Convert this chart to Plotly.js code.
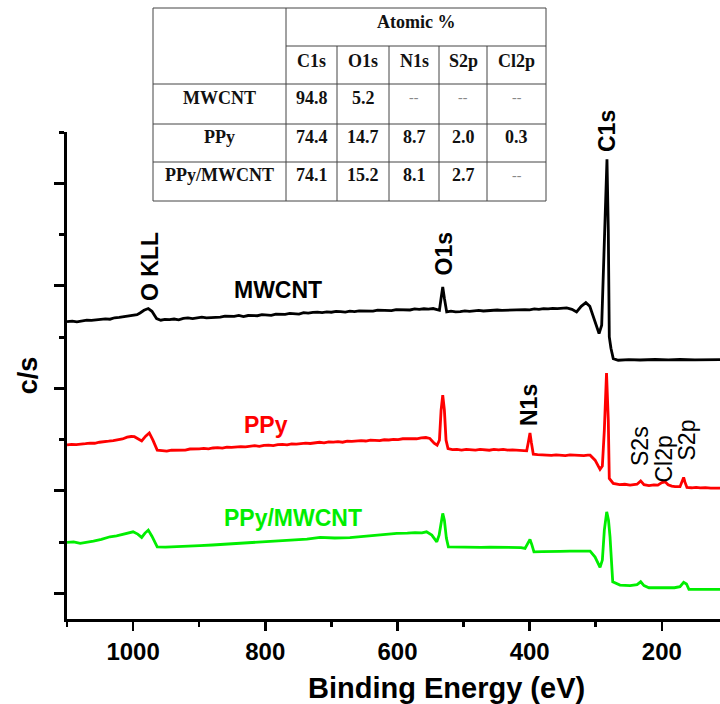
<!DOCTYPE html>
<html><head><meta charset="utf-8">
<script src="https://cdn.plot.ly/plotly-3.0.1.min.js"></script>
<style>html,body{margin:0;padding:0;background:#fff;}#chart{width:720px;height:704px;}</style>
</head><body><div id="chart"></div>
<script>
// ---------------- data (binding energy in eV, intensity in arbitrary c/s units) ----------------
const energyMWCNT = [1100,1092,1085,1078,1070,1063,1056,1049,1042,1035,1028,1021,1014,1007,1000,994,989.5,983.5,977,971.5,964.5,958,952,945,938,931,924,917,910,903,896,889,882,875,868,861,854,847,840,833,826,819,812,805,798,791,784,777,770,763,756,749,742,735,728,721,714,707,700,693,686,679,672,665,658,651,644,637,630,623,616,609,602,595,588,581,574,567,560,553,546,540,536.5,534,531.5,529,525.5,519,512,505,498,491,484,477,470,463,456,449,442,435,428,421,414,407,400,393,386,379,372,365,358,351,344,336,329,322,315,309,302.5,295,291,288,285.2,283,281,279.5,277,273.5,266,250,233,210,190,172.5,150,130,112];
const countsMWCNT = [2.650,2.656,2.648,2.656,2.664,2.662,2.666,2.674,2.678,2.674,2.688,2.692,2.698,2.706,2.712,2.718,2.735,2.761,2.778,2.751,2.680,2.664,2.672,2.670,2.676,2.668,2.682,2.686,2.680,2.684,2.694,2.688,2.690,2.698,2.694,2.704,2.700,2.702,2.712,2.700,2.710,2.712,2.708,2.718,2.716,2.712,2.724,2.720,2.722,2.730,2.726,2.724,2.738,2.734,2.740,2.744,2.738,2.746,2.742,2.750,2.748,2.744,2.752,2.748,2.756,2.754,2.758,2.752,2.762,2.760,2.764,2.758,2.768,2.766,2.770,2.764,2.774,2.770,2.776,2.772,2.778,2.770,2.761,2.878,2.988,2.878,2.745,2.752,2.746,2.748,2.756,2.750,2.752,2.760,2.754,2.758,2.756,2.764,2.760,2.762,2.768,2.764,2.770,2.768,2.766,2.774,2.770,2.778,2.774,2.780,2.778,2.784,2.784,2.771,2.745,2.800,2.836,2.800,2.683,2.534,2.615,3.317,3.931,4.233,3.541,2.501,2.391,2.290,2.274,2.279,2.276,2.281,2.277,2.281,2.278,2.280,2.279];

const energyPPy = [1100,1093,1086,1079,1072,1065,1058,1051,1044,1037,1030,1023,1016,1009,1003,998,992.5,987,981,975.5,970,963.5,956,949,942,935,928,921,914,907,900,893,886,879,872,865,858,851,844,837,830,823,816,809,802,795,788,781,774,767,760,753,746,739,732,725,718,711,704,697,690,683,676,669,662,655,648,641,634,627,620,613,606,599,592,585,578,571,564,557,551,544.5,540,536.5,534,531.5,529,526.5,523.5,517,510,503,496,489,482,475,468,461,454,447,440,433,426,419,412,404.5,402,399.5,397.5,394.5,388,381,374,367,360,353,346,339,332,325,318,312,308.5,301,293.5,290,287,283.7,281,279.5,273.5,264,256,248,242,237.5,232,227,219.5,212,206,200,195,190.5,185,180,172.5,169.5,167,165,162,155,148,142,134,126,119,112];
const countsPPy = [1.448,1.454,1.450,1.458,1.460,1.466,1.464,1.474,1.476,1.484,1.490,1.496,1.506,1.523,1.530,1.528,1.509,1.487,1.533,1.565,1.494,1.397,1.392,1.388,1.396,1.398,1.402,1.398,1.408,1.406,1.410,1.414,1.410,1.418,1.422,1.416,1.426,1.424,1.428,1.432,1.428,1.436,1.440,1.434,1.444,1.446,1.442,1.450,1.454,1.448,1.458,1.456,1.460,1.466,1.462,1.470,1.474,1.468,1.478,1.476,1.480,1.474,1.484,1.482,1.486,1.490,1.486,1.494,1.492,1.490,1.498,1.496,1.502,1.500,1.508,1.506,1.510,1.508,1.516,1.520,1.511,1.465,1.445,1.494,1.787,1.933,1.787,1.494,1.413,1.402,1.404,1.398,1.404,1.400,1.398,1.404,1.400,1.396,1.404,1.400,1.404,1.398,1.400,1.396,1.398,1.390,1.475,1.565,1.475,1.358,1.354,1.350,1.352,1.346,1.350,1.348,1.344,1.350,1.346,1.348,1.344,1.348,1.348,1.299,1.209,1.241,1.592,2.150,1.689,1.121,1.072,1.060,1.064,1.056,1.062,1.065,1.097,1.060,1.051,1.058,1.056,1.080,1.088,1.060,1.046,1.041,1.041,1.085,1.131,1.085,1.033,1.030,1.034,1.029,1.032,1.027,1.030,1.026];

const energyPPyMWCNT = [1100,1090,1080,1070,1060,1048,1035,1025,1017,1008,1000,993,987,982,977,971.5,963.5,951,939,920,899,880,858,835,808,785,757.5,737,717,695,672,652,634,617,601,585,573.5,563,556,548,540.5,537,534,531.5,529,526,523,514,505,490,473.5,460,445,430,413,407,403,399.5,396.5,393.5,381,369,354,339,326,314.5,308.5,301,293.5,290,287,283.4,280.7,278.4,276.4,274.3,263.3,248,237.5,232,227,219.5,203,181,172.5,167,162.7,159,142,112];
const countsPPyMWCNT = [0.497,0.502,0.487,0.496,0.510,0.526,0.552,0.560,0.573,0.586,0.600,0.578,0.546,0.588,0.617,0.558,0.454,0.452,0.454,0.460,0.466,0.472,0.481,0.486,0.495,0.504,0.519,0.530,0.546,0.540,0.544,0.556,0.568,0.574,0.585,0.588,0.593,0.590,0.600,0.568,0.503,0.568,0.714,0.780,0.714,0.539,0.454,0.452,0.451,0.449,0.448,0.452,0.451,0.448,0.446,0.439,0.490,0.526,0.471,0.405,0.408,0.407,0.410,0.412,0.410,0.415,0.412,0.354,0.253,0.325,0.617,0.795,0.714,0.552,0.325,0.113,0.081,0.076,0.086,0.113,0.076,0.055,0.055,0.055,0.066,0.107,0.091,0.039,0.039,0.039];

const xTickValues = [1000, 800, 600, 400, 200];
const seriesNames = ['MWCNT', 'PPy', 'PPy/MWCNT'];
const xTitle = 'Binding Energy (eV)';
const yTitle = 'c/s';

// inset table
const tableHeader = 'Atomic %';
const tableElements = ['C1s', 'O1s', 'N1s', 'S2p', 'Cl2p'];
const tableSamples = ['MWCNT', 'PPy', 'PPy/MWCNT'];
const atomicMWCNT = [94.8, 5.2, null, null, null];
const atomicPPy = [74.4, 14.7, 8.7, 2.0, 0.3];
const atomicPPyMWCNT = [74.1, 15.2, 8.1, 2.7, null];

// peak labels
const peakLabels = ['O KLL', 'O1s', 'C1s', 'N1s', 'S2s', 'Cl2p', 'S2p'];

// ---------------- layout geometry (pixels) ----------------
const W = 720, H = 704, ML = 67, MR = 0, MT = 132, MB = 85;
const PW = W - ML - MR, PH = H - MT - MB;
const px = v => (v - ML) / PW;
const py = v => (H - MB - v) / PH;

const FONT = 'Liberation Sans, Arial, Helvetica, sans-serif';
const SERIF = 'Liberation Serif, Times New Roman, serif';
const colors = ['#000000', '#ff0000', '#00ee00'];

const traces = [
  {x: energyMWCNT, y: countsMWCNT},
  {x: energyPPy, y: countsPPy},
  {x: energyPPyMWCNT, y: countsPPyMWCNT}
].map((t, i) => ({
  type: 'scatter', mode: 'lines', name: seriesNames[i], x: t.x, y: t.y,
  line: {color: colors[i], width: 2.8}, hoverinfo: 'skip'
}));

const shapes = [];
const annotations = [];
const line = (x0, y0, x1, y1) => shapes.push({type: 'line', xref: 'paper', yref: 'paper',
  x0: px(x0), y0: py(y0), x1: px(x1), y1: py(y1), line: {color: '#444', width: 1}});
const text = (s, x, y, opts) => annotations.push(Object.assign({
  text: s, xref: 'paper', yref: 'paper', x: px(x), y: py(y), xanchor: 'center', yanchor: 'middle',
  showarrow: false}, opts));

// table grid
const colEdges = [153, 286, 337, 389, 439, 487, 546];
line(153, 8, 546, 8);
line(286, 46, 546, 46);
[84, 124, 162, 201].forEach(r => line(153, r, 546, r));
[153, 286, 546].forEach(c => line(c, 8, c, 201));
[337, 389, 439, 487].forEach(c => line(c, 46, c, 201));

const tFont = {family: SERIF, size: 18, color: '#111', weight: 'bold'};
text(tableHeader, 416, 22, {font: tFont});
const colCenters = colEdges.slice(1, -1).map((c, i) => (c + colEdges[i + 2]) / 2);
tableElements.forEach((e, i) => text(e, colCenters[i], 61, {font: tFont}));
const rowY = [98, 137, 175];
[atomicMWCNT, atomicPPy, atomicPPyMWCNT].forEach((row, r) => {
  text(tableSamples[r], 219.5, rowY[r], {font: tFont});
  row.forEach((v, i) => {
    if (v === null) text('--', colCenters[i], rowY[r], {font: {family: SERIF, size: 14, color: '#888'}});
    else text(v.toFixed(1), colCenters[i], rowY[r], {font: tFont});
  });
});

// peak and series labels
const bold23 = c => ({family: FONT, size: 23, color: c, weight: 'bold'});
const reg23 = {family: FONT, size: 23, color: '#000'};
text(peakLabels[0], 150, 267, {textangle: -90, font: bold23('#000')});
text(peakLabels[1], 443.5, 254, {textangle: -90, font: bold23('#000')});
text(peakLabels[2], 607, 131, {textangle: -90, font: bold23('#000')});
text(peakLabels[3], 529, 405, {textangle: -90, font: bold23('#000')});
text(peakLabels[4], 640, 446, {textangle: -90, font: reg23});
text(peakLabels[5], 663.5, 459, {textangle: -90, font: reg23});
text(peakLabels[6], 686.5, 440, {textangle: -90, font: reg23});
text(seriesNames[0], 278, 290, {font: bold23('#000')});
text(seriesNames[1], 266, 425, {font: bold23('#ff0000')});
text(seriesNames[2], 292.5, 517.5, {font: bold23('#00ee00')});

// x axis title (offset to the right as in the original, whose axis ran past the crop)
text(xTitle, 446, 688, {font: {family: FONT, size: 29, color: '#000', weight: 'bold'}});

const layout = {
  width: W, height: H, margin: {l: ML, r: MR, t: MT, b: MB},
  paper_bgcolor: '#fff', plot_bgcolor: '#fff', showlegend: false,
  font: {family: FONT, color: '#000'},
  xaxis: {
    range: [1100, 112], autorange: false, showgrid: false, zeroline: false,
    showline: true, linecolor: '#000', linewidth: 3,
    tickmode: 'array', tickvals: xTickValues, ticktext: xTickValues.map(String),
    ticks: 'outside', ticklen: 9, tickwidth: 2.5, tickcolor: '#000',
    minor: {tickmode: 'linear', tick0: 0, dtick: 100, ticks: 'outside', ticklen: 5, tickwidth: 2.5, tickcolor: '#000'},
    tickfont: {family: FONT, size: 24, color: '#000', weight: 'bold'},
    automargin: false
  },
  yaxis: {
    range: [-0.25, 4.5], autorange: false, showgrid: false, zeroline: false,
    showline: true, linecolor: '#000', linewidth: 3,
    tickmode: 'linear', tick0: 0, dtick: 1, showticklabels: false,
    ticks: 'outside', ticklen: 10, tickwidth: 3, tickcolor: '#000',
    minor: {tickmode: 'linear', tick0: 0, dtick: 0.5, ticks: 'outside', ticklen: 5, tickwidth: 3, tickcolor: '#000'},
    title: {text: yTitle, font: {family: FONT, size: 27, color: '#000', weight: 'bold'}, standoff: 9},
    automargin: false
  },
  shapes: shapes, annotations: annotations
};

Plotly.newPlot('chart', traces, layout, {displayModeBar: false, staticPlot: true});
</script>
</body></html>
